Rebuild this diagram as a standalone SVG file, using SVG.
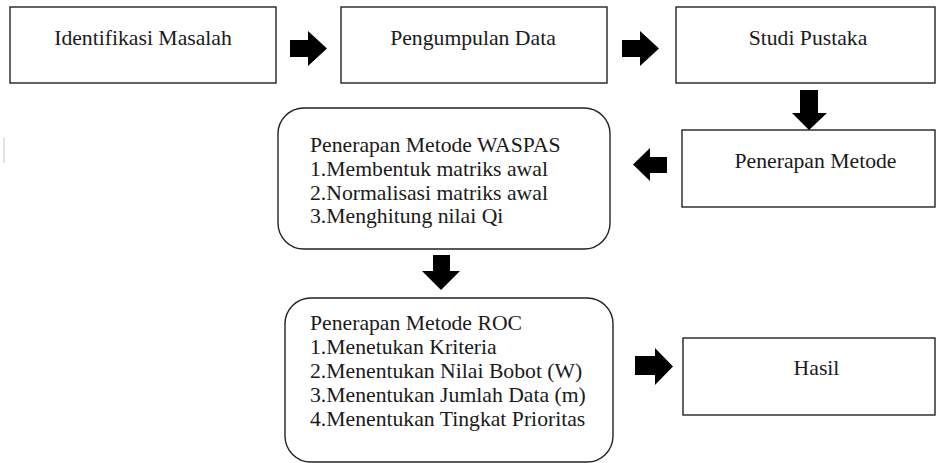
<svg xmlns="http://www.w3.org/2000/svg" width="936" height="463" viewBox="0 0 936 463">
<style>
.box{fill:#fff;stroke:#222;stroke-width:1.4}
.t{font-family:'Liberation Serif','Tinos','Times New Roman','DejaVu Serif',serif;font-size:21.7px;fill:#1a1a1a}
.c{text-anchor:middle}
.arr{fill:#000}
</style>
<rect x="0" y="0" width="936" height="463" fill="#fff"/>
<rect x="3" y="138" width="2" height="25" fill="#e2e2e2"/>
<g id="n1"><rect class="box" x="10" y="7" width="266" height="76"/><text class="t c" x="143" y="45">Identifikasi Masalah</text></g>
<g id="n2"><rect class="box" x="341" y="7" width="266" height="76"/><text class="t c" x="473" y="45">Pengumpulan Data</text></g>
<g id="n3"><rect class="box" x="676" y="7" width="259" height="76"/><text class="t c" x="808" y="45">Studi Pustaka</text></g>
<g id="n4"><rect class="box" x="682" y="130" width="253" height="77"/><text class="t c" x="815.5" y="168">Penerapan Metode</text></g>
<g id="n5"><rect class="box" x="278" y="108" width="332" height="141" rx="26" ry="26"/>
<text class="t" x="310" y="152">Penerapan Metode WASPAS</text>
<text class="t" x="310" y="176">1.Membentuk matriks awal</text>
<text class="t" x="310" y="200">2.Normalisasi matriks awal</text>
<text class="t" x="310" y="223">3.Menghitung nilai Qi</text></g>
<g id="n6"><rect class="box" x="285" y="298" width="328" height="164" rx="26" ry="26"/>
<text class="t" x="310" y="330">Penerapan Metode ROC</text>
<text class="t" x="310" y="354">1.Menetukan Kriteria</text>
<text class="t" x="310" y="378">2.Menentukan Nilai Bobot (W)</text>
<text class="t" x="310" y="402">3.Menentukan Jumlah Data (m)</text>
<text class="t" x="310" y="426">4.Menentukan Tingkat Prioritas</text></g>
<g id="n7"><rect class="box" x="683" y="338" width="252" height="77"/><text class="t c" x="816.5" y="375">Hasil</text></g>
<g id="connectors">
<polygon class="arr" points="290,40 308,40 308,31 327,48.5 308,66 308,57 290,57"/>
<polygon class="arr" points="622,40 640,40 640,31 659,48.5 640,66 640,57 622,57"/>
<polygon class="arr" points="800,90 818,90 818,113 827,113 809,130 792,113 800,113"/>
<polygon class="arr" points="667,157 650,157 650,148 633,164.5 650,181 650,173 667,173"/>
<polygon class="arr" points="433,255 450,255 450,271 460,271 441,290 422,271 433,271"/>
<polygon class="arr" points="635,356 655,356 655,348 673,366.5 655,385 655,375 635,375"/>
</g>
</svg>
